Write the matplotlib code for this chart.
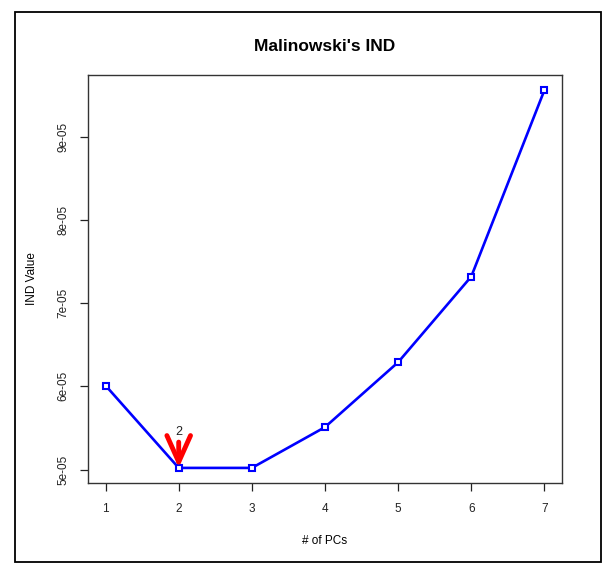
import numpy as np
import matplotlib
matplotlib.use("Agg")
import matplotlib.pyplot as plt
from matplotlib.patches import Rectangle

plt.rcParams['font.family'] = ['Liberation Sans', 'DejaVu Sans']

# IND values
n_pcs = [1, 2, 3, 4, 5, 6, 7]
ind_value = [6.01e-05, 5.02e-05, 5.02e-05, 5.51e-05, 6.29e-05, 7.32e-05, 9.56e-05]
y_ticks = [5e-05, 6e-05, 7e-05, 8e-05, 9e-05]
y_ticklabels = ["5e-05", "6e-05", "7e-05", "8e-05", "9e-05"]
best_pc = 2

fig = plt.figure(figsize=(6.09, 5.69), dpi=100)
ax = fig.add_axes([0.1445, 0.1511, 0.7783, 0.7171])

ax.plot(n_pcs, ind_value, color="blue", lw=1.9, marker="s", ms=4,
        mfc="white", mec="blue", mew=1.5)

# R-like axis ranges (4% padding)
xr = max(n_pcs) - min(n_pcs)
yr = max(ind_value) - min(ind_value)
ax.set_xlim(min(n_pcs) - 0.04 * xr, max(n_pcs) + 0.04 * xr)
ax.set_ylim(min(ind_value) - 0.04 * yr, max(ind_value) + 0.04 * yr)

ax.set_xticks(n_pcs)
ax.set_xticklabels([str(v) for v in n_pcs], fontsize=8.5)
ax.set_yticks(y_ticks)
ax.set_yticklabels(y_ticklabels, fontsize=8.5, rotation=90, va="center")
ax.tick_params(direction="out", length=5.5, width=0.9, colors="#222222")
ax.tick_params(axis="x", pad=9)
ax.tick_params(axis="y", pad=8)
for s in ax.spines.values():
    s.set_linewidth(1.0)
    s.set_color("#333333")

ax.set_title("Malinowski's IND", fontsize=12.5, fontweight="bold", pad=17)
ax.set_xlabel("# of PCs", fontsize=8.5, labelpad=14)
ax.set_ylabel("IND Value", fontsize=8.5, labelpad=14)

# red arrow marking the chosen number of PCs
best_val = ind_value[best_pc - 1]
ax.annotate("", xy=(best_pc, best_val), xytext=(best_pc, best_val + 0.31e-05),
            arrowprops=dict(arrowstyle="->,head_length=1.9,head_width=0.85",
                            color="red", lw=3.5, shrinkA=0, shrinkB=0))
ax.text(best_pc, best_val + 0.36e-05, str(best_pc), ha="center", va="bottom",
        fontsize=9, color="#222222")

# outer frame of the screenshot
fig.patches.append(Rectangle((15 / 609, 1 - 562 / 569), 586 / 609, 550 / 569,
                             transform=fig.transFigure, fill=False,
                             edgecolor="black", lw=1.3))

fig.savefig("out.png", dpi=100)
